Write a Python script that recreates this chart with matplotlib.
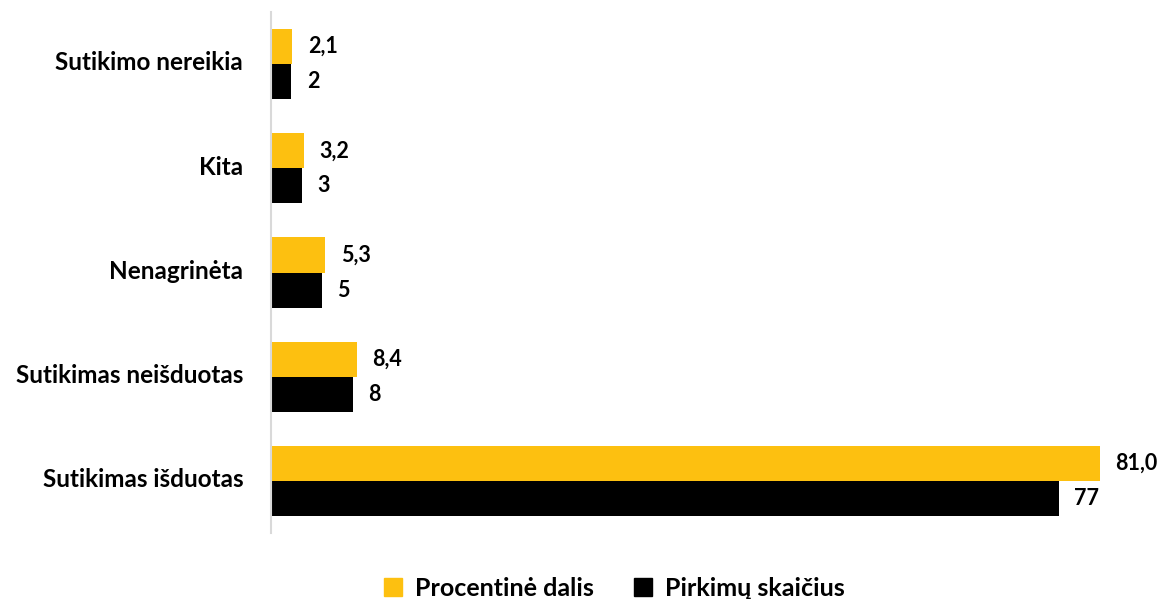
import matplotlib
matplotlib.use("Agg")
import numpy as np
import matplotlib.pyplot as plt
from matplotlib.patches import Patch

plt.rcParams['font.family'] = ['Lato', 'DejaVu Sans']

categories = ["Sutikimo nereikia", "Kita", "Nenagrinėta",
              "Sutikimas neišduotas", "Sutikimas išduotas"]
percent = [2.1, 3.2, 5.3, 8.4, 81.0]
counts = [2, 3, 5, 8, 77]
series_names = ["Procentinė dalis", "Pirkimų skaičius"]

yellow = "#FDC010"
black = "#000000"

fig = plt.figure(figsize=(11.61, 5.99), dpi=100)
ax = fig.add_axes([0.2334, 0.110, 0.758, 0.870])

y = np.arange(len(categories))
h = 0.337
ax.barh(y - h / 2, percent, height=h, color=yellow)
ax.barh(y + h / 2, counts, height=h, color=black)

for yi, v in zip(y, percent):
    ax.text(v + 1.5, yi - h / 2, f"{v:.1f}".replace(".", ","), va="center",
            ha="left", fontsize=15.5, fontweight="bold")
for yi, v in zip(y, counts):
    ax.text(v + 1.5, yi + h / 2, str(v), va="center", ha="left",
            fontsize=15.5, fontweight="bold")

ax.set_ylim(len(categories) - 0.5, -0.5)
ax.set_xlim(0, 86)
ax.set_yticks(y - 0.03)
ax.set_yticklabels(categories, fontsize=17.5, fontweight="bold")
ax.tick_params(axis="y", length=0, pad=20)
ax.set_xticks([])
for s in ["top", "right", "bottom"]:
    ax.spines[s].set_visible(False)
ax.spines["left"].set_color("#d9d9d9")
ax.spines["left"].set_linewidth(1.5)

handles = [Patch(color=yellow), Patch(color=black)]
fig.legend(handles, series_names, loc="center", bbox_to_anchor=(0.529, 0.018),
           ncol=2, frameon=False, handlelength=0.75, handleheight=0.75,
           handletextpad=0.5, columnspacing=1.6,
           prop={"size": 18, "weight": "bold"})

fig.savefig("out.png", dpi=100)
